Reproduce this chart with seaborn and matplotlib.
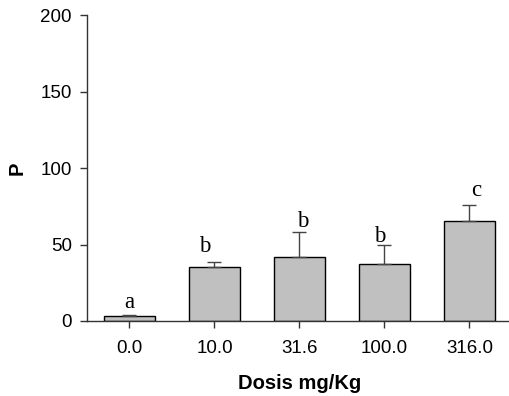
import numpy as np
import pandas as pd
import matplotlib
matplotlib.use('Agg')
import matplotlib.pyplot as plt
import seaborn as sns

# data
dosis = ['0.0', '10.0', '31.6', '100.0', '316.0']
media = [3.0, 35.3, 42.0, 37.0, 65.2]
error = [0.8, 3.5, 16.0, 13.0, 10.4]
letras = ['a', 'b', 'b', 'b', 'c']
letra_y = [12.4, 48.6, 65.0, 55.0, 85.6]
letra_dx = [0.0, -0.12, 0.04, -0.06, 0.08]

sns.set_theme(style='ticks')
plt.rcParams['font.family'] = ['Liberation Sans', 'DejaVu Sans']
plt.rcParams['text.color'] = 'black'
plt.rcParams['axes.labelcolor'] = 'black'

df = pd.DataFrame({'Dosis': dosis, 'P': media})

fig = plt.figure(figsize=(5.1, 3.96), dpi=100)
ax = fig.add_axes([0.1706, 0.1894, 0.833, 0.7727])

sns.barplot(data=df, x='Dosis', y='P', order=dosis, color='#c0c0c0',
            width=0.6, edgecolor='black', linewidth=1.0, saturation=1, ax=ax)

x = np.arange(len(dosis))
ax.errorbar(x, media, yerr=[np.zeros(len(error)), error], fmt='none',
            ecolor='#444444', elinewidth=1.0, capsize=5, capthick=1.0, zorder=1)

for i, (l, y) in enumerate(zip(letras, letra_y)):
    ax.text(i + letra_dx[i], y, l, ha='center', va='center',
            fontsize=16.5, family=['Liberation Serif', 'DejaVu Serif'])

ax.set_xlim(-0.5, 4.5)
ax.set_ylim(0, 200)
ax.set_yticks([0, 50, 100, 150, 200])
ax.set_xlabel('Dosis mg/Kg', fontsize=14.5, fontweight='bold', labelpad=12)
ax.set_ylabel('P', fontsize=14.5, fontweight='bold', labelpad=10)
ax.tick_params(axis='x', pad=9)
ax.tick_params(axis='y', pad=6)
ax.tick_params(axis='both', labelsize=13.5, length=5, width=1, colors='#333333',
               labelcolor='black', direction='out')
sns.despine(ax=ax)
for s in ['left', 'bottom']:
    ax.spines[s].set_color('#333333')
    ax.spines[s].set_linewidth(1.0)

fig.savefig('out.png', dpi=100)
